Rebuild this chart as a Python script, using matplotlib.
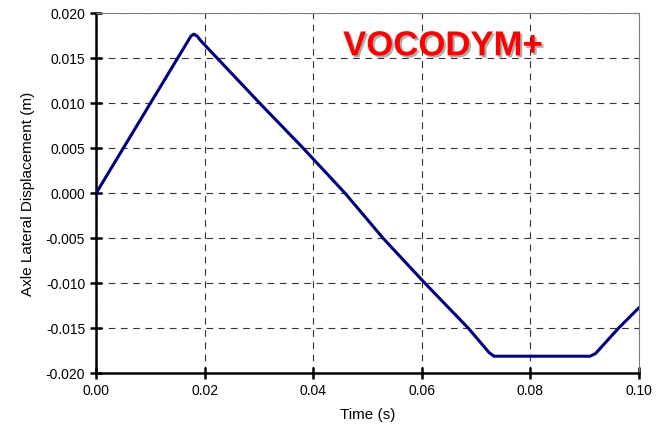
import matplotlib.pyplot as plt
import matplotlib.patheffects as pe

# values
time_s = [0.0, 0.0168, 0.0175, 0.0180, 0.0186, 0.0194, 0.0302, 0.0382,
          0.0459, 0.0529, 0.0606, 0.0686, 0.0724, 0.0733, 0.0745, 0.0910,
          0.0920, 0.0962, 0.1000]
displacement_m = [0.0, 0.0168, 0.0175, 0.0177, 0.0175, 0.0169, 0.0100,
                  0.0050, 0.0000, -0.0050, -0.0100, -0.0150, -0.0177, -0.0181,
                  -0.0181, -0.0181, -0.0178, -0.0150, -0.0127]
x_ticks = [0.00, 0.02, 0.04, 0.06, 0.08, 0.10]
y_ticks = [-0.020, -0.015, -0.010, -0.005, 0.000, 0.005, 0.010, 0.015, 0.020]

plt.rcParams['font.family'] = ['Liberation Sans', 'DejaVu Sans']

fig = plt.figure(figsize=(6.57, 4.38), dpi=100)
ax = fig.add_axes([0.1461, 0.1477, 0.8265, 0.8215])

ax.plot(time_s, displacement_m, color='#00007f', lw=2.2,
        solid_joinstyle='round', solid_capstyle='round', zorder=3)

ax.set_xlim(0, 0.10)
ax.set_ylim(-0.020, 0.020)
ax.set_xticks(x_ticks)
ax.set_yticks(y_ticks)
ax.set_xticklabels([f'{v:.2f}' for v in x_ticks])
ax.set_yticklabels([f'{v:.3f}' for v in y_ticks])

ax.grid(True, color='#333333', linestyle=(0, (6, 5)), linewidth=0.8)

for side in ['left', 'bottom']:
    ax.spines[side].set_linewidth(1.8)
    ax.spines[side].set_color('black')
for side in ['top', 'right']:
    ax.spines[side].set_linewidth(0.8)
    ax.spines[side].set_color('#808080')

ax.tick_params(direction='inout', length=8.5, width=1.8, labelsize=10, pad=3.5)

ax.set_xlabel('Time (s)', fontsize=11, labelpad=7)
ax.set_ylabel('Axle Lateral Displacement (m)', fontsize=11, labelpad=8)

ax.text(0.0639, 0.0164, 'VOCODYM+', color='red', fontsize=25, fontweight='bold',
        ha='center', va='center', zorder=4,
        path_effects=[pe.withSimplePatchShadow(offset=(1.5, -1.5), shadow_rgbFace='#999999', alpha=0.8)])

fig.savefig('out.png', dpi=100)
